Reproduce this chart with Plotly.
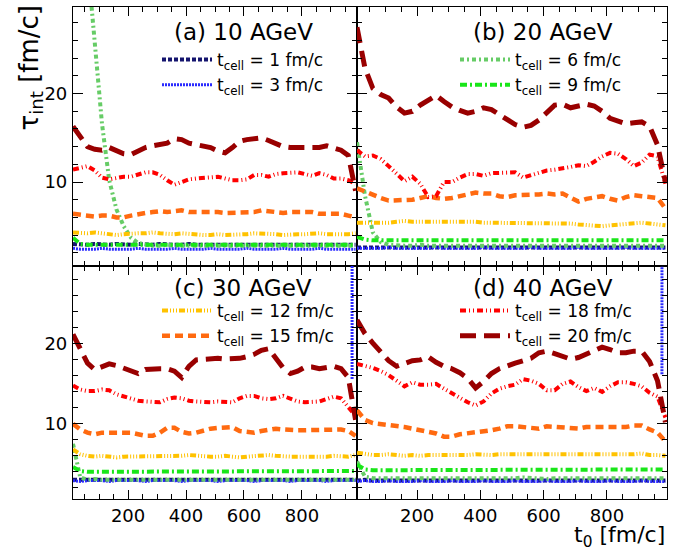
import plotly.graph_objects as go

# sampling grid of the start time t0 [fm/c]
t0 = list(range(10, 986, 25))

# ---- (a) 10 AGeV ----
a_1 = [3.0,2.9,2.9,3.0,2.9,2.9,3.0,2.9,2.9,3.0,2.9,2.9,3.0,2.9,2.9,2.9,3.0,2.9,2.9,2.9,3.0,2.9,2.9,2.9,3.0,2.9,2.9,2.9,3.0,2.9,2.9,2.9,2.9,3.0,2.9,2.9,2.9,2.9,3.0,2.9]
a_3 = [2.5,2.4,2.4,2.4,2.5,2.4,2.4,2.4,2.4,2.5,2.4,2.4,2.4,2.4,2.5,2.4,2.4,2.4,2.4,2.5,2.4,2.4,2.4,2.4,2.5,2.4,2.4,2.4,2.4,2.5,2.4,2.4,2.4,2.4,2.5,2.4,2.4,2.4,2.4,2.4]
a_6 = [80.0,52.0,35.0,25.2,16.6,10.2,6.9,5.0,3.7,3.1,2.9,2.8,2.8,2.9,2.8,2.8,2.8,2.9,2.8,2.8,2.8,2.8,2.9,2.8,2.8,2.8,2.8,2.9,2.8,2.8,2.8,2.8,2.9,2.8,2.8,2.8,2.8,2.8,2.9,2.8]
a_9 = [3.7,3.0,2.9,2.9,2.8,2.9,2.9,2.8,2.9,2.9,2.9,2.8,2.9,2.9,2.9,2.8,2.9,2.9,2.9,2.9,2.8,2.9,2.9,2.9,2.8,2.9,2.9,2.9,2.9,2.8,2.9,2.9,2.9,2.8,2.9,2.9,2.9,2.9,2.8,2.9]
a_12 = [4.3,4.2,4.2,4.3,4.2,4.1,4.0,4.1,4.2,4.2,4.2,4.3,4.2,4.1,4.1,4.2,4.1,4.0,4.0,4.0,4.1,4.0,4.0,4.1,4.1,4.2,4.2,4.1,4.1,4.0,4.1,4.1,4.1,4.2,4.2,4.1,4.1,4.0,4.1,4.2]
a_15 = [6.4,6.3,6.2,6.1,6.2,6.2,6.0,6.0,6.2,6.4,6.5,6.6,6.7,6.6,6.7,6.8,6.6,6.6,6.7,6.7,6.6,6.5,6.5,6.6,6.6,6.6,6.8,6.7,6.5,6.5,6.6,6.6,6.5,6.6,6.4,6.4,6.4,6.4,6.2,6.0]
a_18 = [11.4,11.6,11.8,11.3,10.5,10.3,10.5,10.6,10.6,10.8,11.1,11.1,10.8,10.2,9.7,10.0,10.3,10.4,10.5,10.6,10.6,10.4,10.2,10.2,10.3,10.8,10.8,10.6,10.9,11.0,11.1,11.1,10.9,10.7,11.0,10.8,10.4,10.4,10.2,9.8]
a_20 = [16.3,15.2,14.0,13.7,13.6,13.9,13.6,13.2,13.1,13.5,13.9,14.1,14.2,14.4,14.9,14.8,14.4,14.2,14.0,13.9,13.5,13.3,13.9,14.6,14.8,14.9,15.0,14.7,14.4,14.0,13.9,13.9,13.8,13.9,13.9,14.1,13.9,13.6,13.0,9.0]

# ---- (b) 20 AGeV ----
b_1 = [2.6,2.6,2.7,2.6,2.6,2.6,2.7,2.6,2.6,2.6,2.6,2.7,2.6,2.6,2.6,2.6,2.7,2.6,2.6,2.6,2.6,2.6,2.7,2.6,2.6,2.6,2.6,2.7,2.6,2.6,2.6,2.6,2.6,2.7,2.6,2.6,2.6,2.6,2.7,2.6]
b_3 = [2.5,2.5,2.5,2.5,2.6,2.5,2.5,2.5,2.5,2.5,2.6,2.5,2.5,2.5,2.5,2.5,2.6,2.5,2.5,2.5,2.5,2.5,2.6,2.5,2.5,2.5,2.5,2.5,2.6,2.5,2.5,2.5,2.5,2.5,2.6,2.5,2.5,2.5,2.5,2.5]
b_6 = [14.5,8.5,4.3,3.2,2.9,2.8,2.8,2.8,2.9,2.8,2.8,2.8,2.8,2.9,2.8,2.8,2.8,2.8,2.9,2.8,2.8,2.8,2.8,2.9,2.8,2.8,2.8,2.8,2.9,2.8,2.8,2.8,2.8,2.9,2.8,2.8,2.8,2.8,2.9,2.8]
b_9 = [3.8,3.5,3.4,3.4,3.5,3.4,3.4,3.4,3.4,3.4,3.5,3.4,3.4,3.4,3.5,3.5,3.4,3.4,3.4,3.4,3.5,3.4,3.4,3.5,3.5,3.4,3.4,3.4,3.4,3.4,3.4,3.4,3.4,3.5,3.4,3.4,3.5,3.4,3.4,3.4]
b_12 = [5.4,5.4,5.3,5.4,5.4,5.5,5.6,5.5,5.5,5.5,5.5,5.5,5.6,5.6,5.5,5.5,5.4,5.4,5.3,5.3,5.3,5.3,5.3,5.3,5.4,5.3,5.3,5.3,5.2,5.1,5.0,5.0,5.1,5.2,5.3,5.4,5.4,5.3,5.2,5.1]
b_15 = [9.3,8.9,8.6,8.2,7.9,7.9,7.9,8.0,8.2,8.4,8.2,8.1,8.2,8.4,8.7,8.8,8.7,8.7,8.4,8.3,8.5,8.5,8.5,8.6,8.7,8.6,8.7,8.3,7.8,8.1,8.3,8.4,8.1,7.9,8.3,8.5,8.4,8.3,8.2,7.0]
b_18 = [13.6,12.9,13.0,12.6,11.8,11.0,10.1,10.6,9.8,8.3,8.4,10.0,10.0,10.5,10.9,10.9,10.7,11.0,11.0,11.1,11.1,10.5,10.8,11.0,11.3,11.4,11.5,11.7,11.9,11.8,12.3,12.9,13.3,13.2,12.6,11.8,12.2,13.1,12.9,9.8]
b_20 = [27.5,22.9,20.6,19.9,19.5,18.5,17.8,18.0,18.7,19.3,19.8,19.1,18.5,18.1,17.8,18.0,18.4,18.2,17.6,17.0,16.5,16.2,16.4,17.0,17.9,18.7,18.8,18.4,18.6,18.8,18.6,18.0,17.2,16.9,16.6,16.7,16.8,16.3,14.2,10.0]

# ---- (c) 30 AGeV ----
c_1 = [3.0,3.0,2.9,3.0,3.0,3.0,2.9,3.0,3.0,3.0,3.0,2.9,3.0,3.0,3.0,3.0,2.9,3.0,3.0,3.0,3.0,3.0,2.9,3.0,3.0,3.0,3.0,2.9,3.0,3.0,3.0,3.0,3.0,2.9,3.0,3.0,3.0,3.0,2.9,3.0]
c_3 = [2.9,2.8,2.9,2.9,2.9,2.8,2.9,2.9,2.9,2.9,2.8,2.9,2.9,2.9,2.9,2.8,2.9,2.9,2.9,2.9,2.8,2.9,2.9,2.9,2.9,2.8,2.9,2.9,2.9,2.9,2.8,2.9,2.9,2.9,2.9,2.8,2.9,2.9,2.9,2.9]
c_6 = [7.5,3.3,3.0,3.1,3.0,3.0,3.1,3.0,3.0,3.0,3.1,3.0,3.0,3.1,3.0,3.0,3.0,3.1,3.0,3.0,3.1,3.0,3.0,3.0,3.1,3.0,3.0,3.1,3.0,3.0,3.0,3.1,3.0,3.0,3.1,3.0,3.0,3.0,3.1,3.0]
c_9 = [4.6,4.1,4.0,4.0,4.1,4.0,4.0,4.0,4.0,4.1,4.0,4.0,4.1,4.0,4.0,4.1,4.1,4.0,4.0,4.0,4.1,4.0,4.0,4.0,4.0,4.1,4.0,4.0,4.0,4.0,4.0,4.0,4.1,4.0,4.0,4.0,4.0,4.0,4.1,4.1]
c_12 = [6.8,6.2,6.0,5.9,6.0,5.9,5.8,5.9,5.9,6.0,5.9,5.9,5.9,6.0,5.9,6.0,6.1,6.0,5.9,5.9,5.9,6.0,5.9,5.8,5.9,6.0,6.0,6.1,6.0,5.9,5.9,5.9,5.9,5.8,5.9,5.9,6.0,6.0,5.9,6.1]
c_15 = [10.0,9.3,8.9,8.7,8.9,8.9,8.9,8.9,8.9,8.7,8.5,8.5,8.9,9.5,9.5,9.0,8.8,8.9,9.2,9.4,9.5,9.6,9.6,9.1,9.0,8.9,9.1,9.3,9.4,9.3,9.2,9.2,9.2,9.2,9.3,9.3,9.3,9.3,9.1,8.5]
c_18 = [14.8,14.3,14.1,14.1,14.3,14.2,13.7,13.4,13.1,12.9,12.8,12.7,12.7,13.1,13.3,13.2,12.9,12.8,12.7,12.7,12.8,12.8,12.7,13.2,13.5,13.5,13.2,13.1,13.2,13.5,13.2,12.8,12.7,12.8,12.8,13.1,13.4,13.2,12.1,11.0]
c_20 = [21.2,19.3,17.6,16.8,17.1,17.5,17.3,17.0,16.6,16.3,16.8,16.9,16.9,16.9,16.6,15.8,17.2,18.0,18.1,18.1,18.2,18.1,18.1,18.2,18.4,18.7,19.2,19.4,18.2,17.0,16.3,16.6,17.1,17.1,16.9,17.0,17.2,16.9,15.8,10.5]

# ---- (d) 40 AGeV ----
d_1 = [2.9,3.0,2.9,2.9,3.0,2.9,2.9,2.9,3.0,2.9,2.9,2.9,3.0,2.9,2.9,2.9,3.0,2.9,2.9,2.9,3.0,2.9,2.9,2.9,3.0,2.9,2.9,2.9,3.0,2.9,2.9,2.9,3.0,2.9,2.9,2.9,3.0,2.9,2.9,2.9]
d_3 = [2.8,2.9,2.8,2.8,2.9,2.8,2.8,2.8,2.9,2.8,2.8,2.8,2.9,2.8,2.8,2.8,2.9,2.8,2.8,2.8,2.9,2.8,2.8,2.8,2.9,2.8,2.8,2.8,2.9,2.8,2.8,2.8,2.9,2.8,2.8,2.8,2.9,2.8,2.8,2.8]
d_6 = [5.3,3.4,3.2,3.2,3.1,3.2,3.2,3.1,3.2,3.2,3.2,3.1,3.2,3.2,3.2,3.2,3.1,3.2,3.2,3.2,3.2,3.3,3.2,3.2,3.1,3.2,3.2,3.2,3.2,3.1,3.2,3.2,3.2,3.2,3.2,3.1,3.2,3.2,3.2,3.2]
d_9 = [4.9,4.3,4.2,4.2,4.3,4.2,4.2,4.2,4.2,4.3,4.2,4.2,4.2,4.3,4.3,4.3,4.2,4.2,4.3,4.3,4.3,4.2,4.2,4.3,4.3,4.3,4.2,4.3,4.3,4.2,4.3,4.2,4.2,4.3,4.2,4.2,4.2,4.2,4.3,4.3]
d_12 = [6.4,6.2,6.1,6.1,6.2,6.1,6.0,6.1,6.0,6.1,6.1,6.0,6.1,6.1,6.1,6.2,6.1,6.1,6.2,6.2,6.1,6.1,6.2,6.1,6.1,6.1,6.2,6.1,6.1,6.1,6.2,6.1,6.1,6.2,6.1,6.2,6.3,6.1,6.1,6.0]
d_15 = [11.7,10.5,10.1,10.0,9.9,9.8,9.6,9.4,9.2,9.0,8.8,8.4,8.4,8.7,8.8,8.9,9.0,9.2,9.4,9.7,9.7,9.6,9.5,9.4,9.7,9.6,9.5,9.4,9.4,9.6,9.6,9.6,9.6,9.6,9.6,9.8,9.8,9.3,8.9,7.8]
d_18 = [17.5,17.3,17.0,16.6,16.1,15.4,14.7,15.2,14.9,14.9,15.0,14.4,13.8,13.3,12.7,12.3,12.8,13.8,14.4,14.7,14.9,15.6,15.4,15.0,14.2,14.2,15.0,15.3,14.6,14.1,14.5,14.0,14.7,15.2,15.2,15.0,14.7,13.9,13.4,10.8]
d_20 = [23.0,21.3,20.1,19.0,17.9,17.2,17.6,17.9,18.0,18.4,17.7,17.2,16.9,16.4,15.7,14.5,15.3,16.3,16.9,17.3,17.6,17.9,18.2,18.9,19.1,18.8,18.4,18.1,18.3,18.7,19.2,19.6,19.3,18.9,18.9,19.1,19.1,17.8,15.4,10.2]

# t_cell = 3 fm/c blows up at the very end of the t0 window in (c) and (d)
c_3_end_t0 = [973, 974]
c_3_end = [15.6, 200.0]
d_3_end_t0 = [974, 975]
d_3_end = [16.2, 200.0]

t_cell = [1, 3, 6, 9, 12, 15, 18, 20]
panel_labels = ["(a) 10 AGeV", "(b) 20 AGeV", "(c) 30 AGeV", "(d) 40 AGeV"]
panels = [
    [a_1, a_3, a_6, a_9, a_12, a_15, a_18, a_20],
    [b_1, b_3, b_6, b_9, b_12, b_15, b_18, b_20],
    [c_1, c_3, c_6, c_9, c_12, c_15, c_18, c_20],
    [d_1, d_3, d_6, d_9, d_12, d_15, d_18, d_20],
]
end_pieces = {2: (c_3_end_t0, c_3_end), 3: (d_3_end_t0, d_3_end)}

# line style per t_cell: colour, width, dash pattern
styles = {
    1:  ("#14146e", 4.0, "4px,2px"),
    3:  ("#2a2aff", 3.0, "2px,1px"),
    6:  ("#66cc66", 4.0, "4px,3px,2px,3px"),
    9:  ("#19e619", 4.0, "7px,3px,2px,3px"),
    12: ("#ffc200", 4.0, "6px,2px,1px,2px,1px,2px,1px,2px"),
    15: ("#ff6a10", 4.5, "8px,5px"),
    18: ("#ff0000", 4.0, "6px,3px,1px,3px,1px,3px"),
    20: ("#990000", 5.0, "16px,8px"),
}
# which panel legend lists which t_cell
legend_of = {1: "legend", 3: "legend", 6: "legend2", 9: "legend2",
             12: "legend3", 15: "legend3", 18: "legend4", 20: "legend4"}
legend_panel = {"legend": 0, "legend2": 1, "legend3": 2, "legend4": 3}

FONT = "DejaVu Sans"
W, H = 692, 554
ML, MR, MT, MB = 73, 25, 7, 55
PW, PH = W - ML - MR, H - MT - MB
fx = (357 - ML) / PW          # column split
fy = (H - MB - 266) / PH      # row split

fig = go.Figure()
axis_ids = ["", "2", "3", "4"]
for p, series in enumerate(panels):
    sid = axis_ids[p]
    for tc, yv in zip(t_cell, series):
        col, wid, dash = styles[tc]
        lg = legend_of[tc]
        fig.add_trace(go.Scatter(
            x=t0, y=yv, mode="lines",
            line=dict(color=col, width=wid, dash=dash),
            name=f"t<sub>cell</sub> = {tc} fm/c",
            xaxis="x" + sid, yaxis="y" + sid,
            legend=lg, showlegend=(legend_panel[lg] == p),
        ))
        if tc == 3 and p in end_pieces:
            ex, ey = end_pieces[p]
            fig.add_trace(go.Scatter(
                x=ex, y=ey, mode="lines",
                line=dict(color=col, width=wid, dash=dash),
                xaxis="x" + sid, yaxis="y" + sid, showlegend=False,
            ))

common = dict(showline=True, linecolor="black", linewidth=1.2, mirror="allticks",
              ticks="inside", tickcolor="black", tickwidth=1, showgrid=False,
              zeroline=False, tickfont=dict(family=FONT, size=18, color="black"))
xcommon = dict(common, range=[10, 990], tick0=0, dtick=200, ticklen=9,
               minor=dict(ticks="inside", ticklen=5, dtick=50, tickcolor="black", showgrid=False),
               ticklabelstandoff=0)
ycommon = dict(common, tick0=0, dtick=10, ticklen=10,
               minor=dict(ticks="inside", ticklen=5, dtick=2, tickcolor="black", showgrid=False),
               ticklabelstandoff=1)

top_range = [0.5, 29.8]
bot_range = [0.6, 29.75]
fig.update_layout(
    xaxis=dict(xcommon, domain=[0, fx], anchor="y", showticklabels=False),
    xaxis2=dict(xcommon, domain=[fx, 1], anchor="y2", showticklabels=False),
    xaxis3=dict(xcommon, domain=[0, fx], anchor="y3"),
    xaxis4=dict(xcommon, domain=[fx, 1], anchor="y4"),
    yaxis=dict(ycommon, domain=[fy, 1], anchor="x", range=top_range),
    yaxis2=dict(ycommon, domain=[fy, 1], anchor="x2", range=top_range, showticklabels=False),
    yaxis3=dict(ycommon, domain=[0, fy], anchor="x3", range=bot_range),
    yaxis4=dict(ycommon, domain=[0, fy], anchor="x4", range=bot_range, showticklabels=False),
)

def px_x(px):
    return (px - ML) / PW

def px_y(py):
    return (H - MB - py) / PH

leg_common = dict(bgcolor="rgba(0,0,0,0)", borderwidth=0, xanchor="left", yanchor="top",
                  font=dict(family=FONT, size=17, color="black"), itemwidth=50,
                  traceorder="normal", tracegroupgap=0)
fig.update_layout(
    legend=dict(leg_common, x=px_x(157), y=px_y(42)),
    legend2=dict(leg_common, x=px_x(455), y=px_y(42)),
    legend3=dict(leg_common, x=px_x(157), y=px_y(293)),
    legend4=dict(leg_common, x=px_x(455), y=px_y(293)),
)

ann = []
for p, lab in enumerate(panel_labels):
    sid = axis_ids[p]
    ann.append(dict(text=lab, xref=f"x{sid} domain", yref=f"y{sid} domain",
                    x=0.6, y=0.905, xanchor="center", yanchor="middle", showarrow=False,
                    font=dict(family=FONT, size=23, color="black")))
ann.append(dict(text="τ<sub>int</sub> [fm/c]", xref="paper", yref="paper",
                x=px_x(30), y=px_y(4), xanchor="center", yanchor="top", textangle=-90,
                showarrow=False, font=dict(family=FONT, size=26, color="black")))
ann.append(dict(text="t<sub>0</sub> [fm/c]", xref="paper", yref="paper",
                x=px_x(667), y=px_y(553), xanchor="right", yanchor="bottom",
                showarrow=False, font=dict(family=FONT, size=22, color="black")))

fig.update_layout(
    width=W, height=H, margin=dict(l=ML, r=MR, t=MT, b=MB, autoexpand=False),
    paper_bgcolor="white", plot_bgcolor="white", annotations=ann,
)

fig.write_html("out.html")
